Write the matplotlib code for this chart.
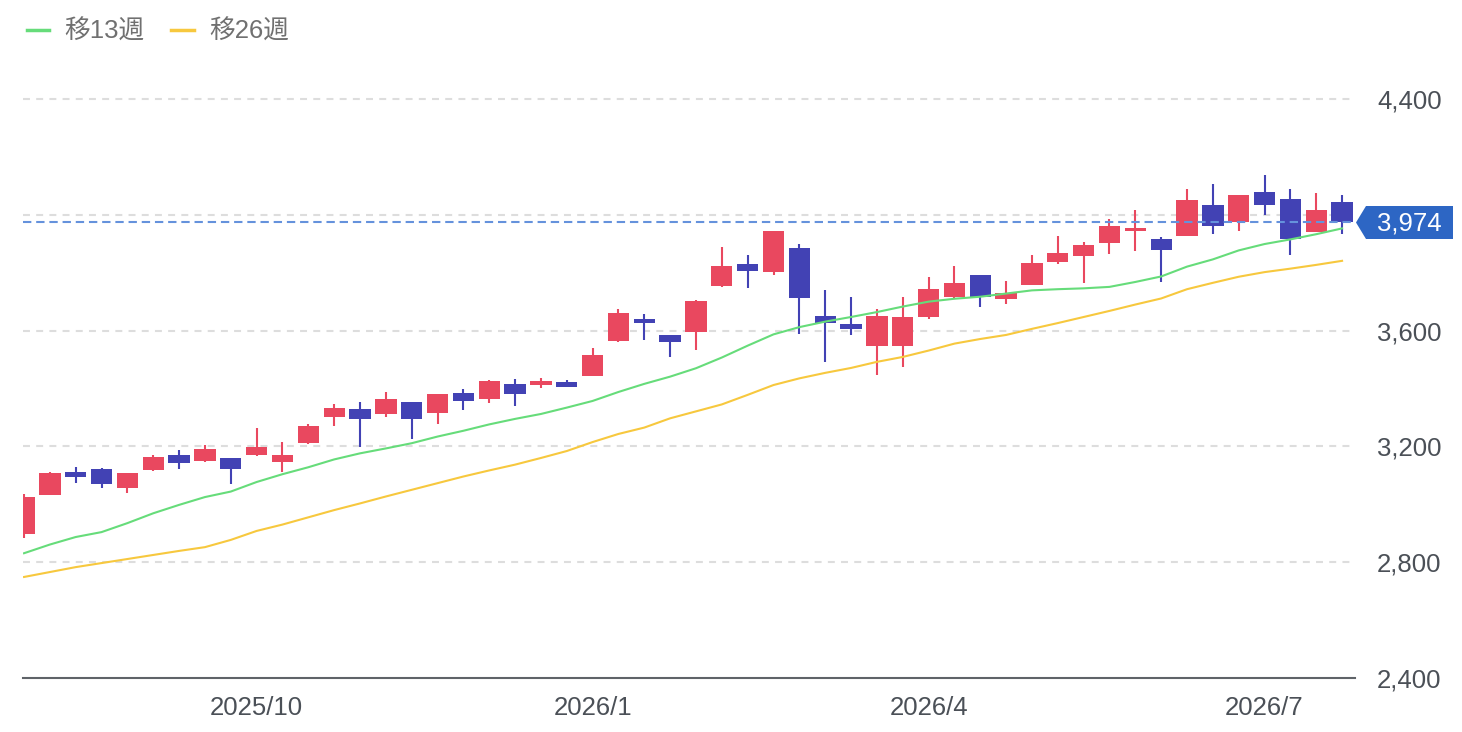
import matplotlib
matplotlib.use("Agg")
import matplotlib.pyplot as plt
from matplotlib.lines import Line2D
from matplotlib.patches import Polygon
import numpy as np

plt.rcParams['font.family'] = ['Liberation Sans', 'Noto Sans CJK JP', 'DejaVu Sans']
plt.rcParams['lines.scale_dashes'] = False

# weekly candles (円)
opens = [2898, 3033, 3112, 3122, 3056, 3118, 3169, 3151, 3160, 3170,
         3147, 3211, 3300, 3329, 3313, 3352, 3314, 3383, 3365, 3416,
         3412, 3424, 3444, 3563, 3639, 3585, 3594, 3753, 3829, 3802,
         3885, 3651, 3622, 3547, 3547, 3648, 3717, 3792, 3708, 3758,
         3838, 3858, 3904, 3945, 3915, 3927, 4035, 3975, 4079, 4055,
         3941, 4044]
highs = [3036, 3110, 3128, 3125, 3109, 3170, 3186, 3204, 3161, 3262,
         3214, 3277, 3347, 3352, 3388, 3353, 3382, 3398, 3428, 3433,
         3435, 3429, 3539, 3674, 3657, 3586, 3704, 3890, 3860, 3943,
         3899, 3740, 3717, 3674, 3716, 3786, 3824, 3793, 3771, 3861,
         3928, 3906, 3984, 4017, 3924, 4088, 4105, 4070, 4138, 4088,
         4074, 4069]
lows = [2884, 3031, 3072, 3055, 3040, 3115, 3123, 3145, 3070, 3167,
        3113, 3207, 3271, 3199, 3303, 3227, 3277, 3325, 3351, 3340,
        3403, 3405, 3443, 3562, 3567, 3508, 3533, 3752, 3746, 3792,
        3588, 3493, 3586, 3447, 3475, 3639, 3712, 3683, 3691, 3757,
        3829, 3765, 3865, 3876, 3767, 3926, 3934, 3944, 3998, 3860,
        3940, 3933]
closes = [3026, 3109, 3095, 3069, 3107, 3162, 3144, 3190, 3123, 3199,
          3171, 3271, 3334, 3294, 3363, 3294, 3381, 3358, 3426, 3380,
          3426, 3405, 3517, 3662, 3625, 3562, 3703, 3823, 3806, 3943,
          3714, 3627, 3605, 3651, 3648, 3744, 3764, 3715, 3731, 3834,
          3867, 3896, 3962, 3953, 3878, 4050, 3961, 4069, 4035, 3918,
          4016, 3974]

ma13 = [2831, 2861, 2887, 2904, 2935, 2969, 2998, 3025, 3044, 3077,
        3104, 3128, 3155, 3176, 3193, 3211, 3234, 3254, 3276, 3295,
        3312, 3334, 3357, 3388, 3416, 3441, 3470, 3507, 3548, 3587,
        3612, 3631, 3647, 3664, 3683, 3700, 3710, 3717, 3728, 3739,
        3743, 3746, 3751, 3768, 3787, 3821, 3846, 3877, 3899, 3915,
        3933, 3953]
ma26 = [2749, 2766, 2783, 2797, 2811, 2825, 2839, 2852, 2877, 2908,
        2930, 2955, 2980, 3003, 3027, 3050, 3073, 3096, 3117, 3137,
        3160, 3184, 3215, 3243, 3265, 3297, 3321, 3345, 3378, 3412,
        3435, 3454, 3471, 3492, 3509, 3531, 3555, 3571, 3585, 3606,
        3626, 3647, 3668, 3690, 3711, 3743, 3765, 3786, 3802, 3814,
        3827, 3841]

month_ticks = [9, 22, 35, 48]
month_labels = ['2025/10', '2026/1', '2026/4', '2026/7']
y_ticks = [2400, 2800, 3200, 3600, 4000, 4400]
last_price = 3974

UP = '#e9485f'
DOWN = '#4242b4'
GREEN = '#66dc7a'
YELLOW = '#f7c83e'
TAG = '#2d66c4'

W, H = 1462, 732
fig = plt.figure(figsize=(W / 100, H / 100), dpi=100)
ax = fig.add_axes([23 / W, 1 - 678 / H, (1355 - 23) / W, (678 - 99) / H])

x = np.arange(len(opens))
o = np.array(opens)
c = np.array(closes)
cols = [UP if cc >= oo else DOWN for oo, cc in zip(o, c)]

# grid
for yv in y_ticks[1:]:
    ax.axhline(yv, color='#dddddd', lw=1.5, ls=(0, (5, 4.5)), zorder=0, clip_on=False)

ax.vlines(x, lows, highs, colors=cols, lw=1.5, zorder=2)
ax.bar(x, np.maximum(np.abs(c - o), 4), bottom=np.minimum(o, c), width=0.825,
       color=cols, zorder=3, linewidth=0)

ax.plot(x, ma13, color=GREEN, lw=1.5, zorder=4)
ax.plot(x, ma26, color=YELLOW, lw=1.5, zorder=4)

ax.axhline(last_price, color='#6592dc', lw=1.5, ls=(0, (6, 3.5)), zorder=5)

ax.set_xlim(-0.04, 51.5)
ax.set_ylim(2400, 4400)

for s in ['top', 'left', 'right']:
    ax.spines[s].set_visible(False)
ax.spines['bottom'].set_color('#5f6368')
ax.spines['bottom'].set_linewidth(1.5)

ax.yaxis.tick_right()
ax.set_yticks(y_ticks)
ax.set_yticklabels([f'{v:,}' for v in y_ticks])
ax.set_xticks(month_ticks)
ax.set_xticklabels(month_labels)
ax.tick_params(axis='y', length=0, pad=16, labelsize=18.5, labelcolor='#4b5057')
ax.tick_params(axis='x', length=0, pad=13, labelsize=18.5, labelcolor='#4b5057')

# price tag (covers the 4,000 label like the original)
def fpt(px, py):
    return (px / W, 1 - py / H)

tag = Polygon([fpt(1356, 222.5), fpt(1366, 206), fpt(1453, 206), fpt(1453, 239), fpt(1366, 239)],
              closed=True, transform=fig.transFigure, facecolor=TAG, edgecolor='none', zorder=10)
fig.add_artist(tag)
fig.text(*fpt(1409, 223), f'{last_price:,}', color='white', fontsize=18.5,
         ha='center', va='center', zorder=11)

# legend
for (x0, x1, tx, col, lab) in [(27, 49, 64, GREEN, '移13週'), (171, 194, 209, YELLOW, '移26週')]:
    fig.add_artist(Line2D([x0 / W, x1 / W], [1 - 30 / H] * 2, transform=fig.transFigure,
                          color=col, lw=2.5))
    fig.text(tx / W, 1 - 32 / H, lab, color='#707070', fontsize=18.5, ha='left', va='center')

fig.savefig('out.png', dpi=100)
